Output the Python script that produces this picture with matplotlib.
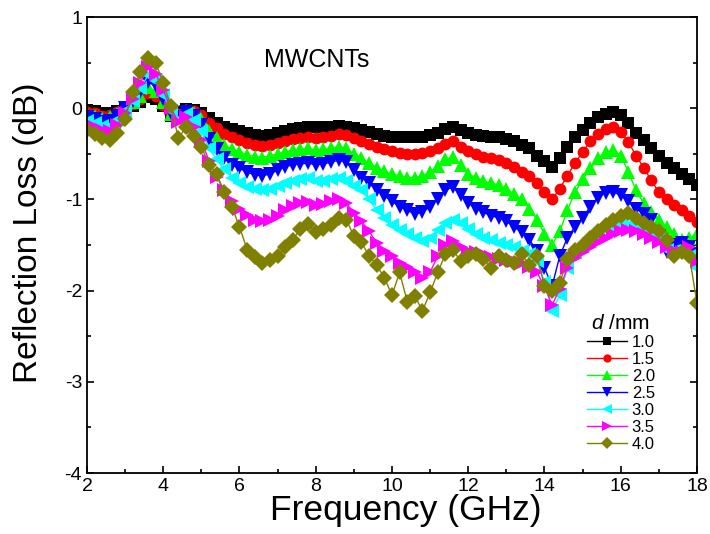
import matplotlib
matplotlib.use("Agg")
import matplotlib.pyplot as plt
import numpy as np
from matplotlib.ticker import MultipleLocator

plt.rcParams['font.family'] = ['Liberation Sans', 'DejaVu Sans']
plt.rcParams['mathtext.fontset'] = 'custom'
plt.rcParams['mathtext.it'] = 'Liberation Sans:italic'
plt.rcParams['mathtext.rm'] = 'Liberation Sans'
plt.rcParams['axes.unicode_minus'] = False

# frequency grid, 2 - 18 GHz every 0.2 GHz
freq = np.round(np.arange(2.0, 18.01, 0.2), 1)

rl_10 = [-0.02, -0.03, -0.05, -0.05, -0.03, 0.00, 0.03, 0.07, 0.12, 0.10,
         0.02, -0.08, -0.04, -0.01, -0.02, -0.05, -0.11, -0.16, -0.20, -0.23,
         -0.25, -0.27, -0.29, -0.30, -0.29, -0.27, -0.25, -0.23, -0.22, -0.21,
         -0.21, -0.21, -0.20, -0.19, -0.20, -0.22, -0.24, -0.26, -0.28, -0.30,
         -0.31, -0.32, -0.32, -0.32, -0.31, -0.29, -0.27, -0.23, -0.20, -0.24,
         -0.27, -0.29, -0.30, -0.31, -0.32, -0.34, -0.36, -0.40, -0.44, -0.52,
         -0.58, -0.64, -0.55, -0.43, -0.32, -0.24, -0.16, -0.10, -0.06, -0.04,
         -0.07, -0.16, -0.27, -0.35, -0.44, -0.52, -0.60, -0.66, -0.72, -0.78,
         -0.84]
rl_15 = [-0.04, -0.05, -0.08, -0.07, -0.04, 0.00, 0.05, 0.10, 0.17, 0.14,
         0.04, -0.07, -0.06, -0.02, -0.03, -0.07, -0.16, -0.22, -0.28, -0.32,
         -0.35, -0.38, -0.40, -0.41, -0.40, -0.38, -0.36, -0.34, -0.33, -0.32,
         -0.33, -0.32, -0.30, -0.28, -0.29, -0.33, -0.36, -0.39, -0.42, -0.45,
         -0.47, -0.49, -0.50, -0.50, -0.49, -0.47, -0.44, -0.39, -0.36, -0.42,
         -0.47, -0.50, -0.53, -0.55, -0.57, -0.60, -0.64, -0.70, -0.74, -0.82,
         -0.92, -1.00, -0.88, -0.74, -0.60, -0.48, -0.36, -0.28, -0.23, -0.21,
         -0.26, -0.37, -0.52, -0.65, -0.79, -0.92, -1.00, -1.06, -1.12, -1.18,
         -1.25]
rl_20 = [-0.07, -0.08, -0.11, -0.10, -0.06, 0.00, 0.07, 0.14, 0.23, 0.19,
         0.07, -0.06, -0.08, -0.03, -0.05, -0.12, -0.25, -0.33, -0.40, -0.45,
         -0.48, -0.51, -0.53, -0.54, -0.52, -0.50, -0.48, -0.46, -0.45, -0.44,
         -0.46, -0.45, -0.44, -0.42, -0.44, -0.50, -0.55, -0.60, -0.65, -0.69,
         -0.72, -0.74, -0.76, -0.76, -0.74, -0.70, -0.63, -0.56, -0.53, -0.62,
         -0.72, -0.76, -0.80, -0.82, -0.84, -0.88, -0.94, -1.00, -1.10, -1.22,
         -1.38, -1.50, -1.35, -1.12, -0.92, -0.78, -0.66, -0.55, -0.48, -0.46,
         -0.52, -0.70, -0.90, -1.04, -1.14, -1.22, -1.30, -1.38, -1.44, -1.42,
         -1.38]
rl_25 = [-0.10, -0.12, -0.15, -0.14, -0.09, 0.00, 0.08, 0.18, 0.29, 0.24,
         0.10, -0.05, -0.10, -0.04, -0.08, -0.18, -0.34, -0.45, -0.55, -0.62,
         -0.66, -0.70, -0.73, -0.74, -0.72, -0.68, -0.64, -0.62, -0.61, -0.60,
         -0.62, -0.61, -0.59, -0.57, -0.59, -0.68, -0.76, -0.82, -0.90, -0.96,
         -1.02, -1.08, -1.12, -1.16, -1.14, -1.08, -1.00, -0.90, -0.86, -0.95,
         -1.04, -1.10, -1.14, -1.18, -1.20, -1.24, -1.30, -1.36, -1.44, -1.56,
         -1.75, -1.95, -1.62, -1.42, -1.30, -1.20, -1.08, -0.98, -0.93, -0.92,
         -0.95, -1.02, -1.10, -1.16, -1.22, -1.40, -1.58, -1.50, -1.48, -1.52,
         -1.60]
rl_30 = [-0.14, -0.16, -0.19, -0.19, -0.13, -0.03, 0.08, 0.22, 0.36, 0.30,
         0.15, -0.03, -0.13, -0.06, -0.13, -0.25, -0.44, -0.56, -0.67, -0.76,
         -0.82, -0.86, -0.89, -0.90, -0.88, -0.85, -0.82, -0.80, -0.78, -0.77,
         -0.80, -0.80, -0.78, -0.76, -0.80, -0.85, -0.90, -1.00, -1.12, -1.20,
         -1.28, -1.34, -1.38, -1.42, -1.46, -1.42, -1.34, -1.26, -1.22, -1.26,
         -1.32, -1.38, -1.42, -1.45, -1.48, -1.50, -1.52, -1.56, -1.60, -1.68,
         -1.90, -2.22, -2.05, -1.75, -1.58, -1.50, -1.44, -1.38, -1.33, -1.30,
         -1.28, -1.28, -1.30, -1.34, -1.40, -1.45, -1.55, -1.56, -1.58, -1.62,
         -1.75]
rl_35 = [-0.18, -0.20, -0.24, -0.25, -0.18, -0.05, 0.10, 0.28, 0.45, 0.38,
         0.20, 0.00, -0.15, -0.10, -0.20, -0.35, -0.58, -0.75, -0.90, -1.02,
         -1.10, -1.17, -1.22, -1.24, -1.22, -1.18, -1.12, -1.07, -1.04, -1.03,
         -1.06, -1.05, -1.02, -0.99, -1.04, -1.15, -1.24, -1.35, -1.48, -1.56,
         -1.62, -1.70, -1.74, -1.80, -1.86, -1.80, -1.62, -1.50, -1.46, -1.52,
         -1.56, -1.58, -1.60, -1.63, -1.65, -1.66, -1.68, -1.70, -1.74, -1.80,
         -1.95, -2.16, -1.98, -1.75, -1.64, -1.58, -1.52, -1.47, -1.42, -1.38,
         -1.35, -1.34, -1.35, -1.38, -1.42, -1.47, -1.52, -1.56, -1.58, -1.52,
         -1.68]
rl_40 = [-0.24, -0.28, -0.33, -0.35, -0.27, -0.12, 0.18, 0.40, 0.55, 0.50,
         0.28, 0.02, -0.33, -0.20, -0.30, -0.42, -0.62, -0.72, -0.92, -1.08,
         -1.30, -1.55, -1.63, -1.70, -1.66, -1.62, -1.52, -1.44, -1.32, -1.27,
         -1.36, -1.32, -1.28, -1.20, -1.22, -1.40, -1.47, -1.62, -1.72, -1.86,
         -2.05, -1.80, -2.12, -2.06, -2.22, -2.02, -1.80, -1.60, -1.55, -1.68,
         -1.62, -1.60, -1.65, -1.75, -1.62, -1.66, -1.70, -1.60, -1.72, -1.62,
         -1.95, -2.00, -1.92, -1.65, -1.55, -1.50, -1.42, -1.35, -1.28, -1.23,
         -1.18, -1.15, -1.20, -1.26, -1.30, -1.35, -1.45, -1.62, -1.58, -1.62,
         -2.14]

thickness = ['1.0', '1.5', '2.0', '2.5', '3.0', '3.5', '4.0']
curves = [rl_10, rl_15, rl_20, rl_25, rl_30, rl_35, rl_40]
colors = ['black', '#ff0000', '#00ff00', '#0000ff', '#00ffff', '#ff00ff', '#808000']
markers = ['s', 'o', '^', 'v', '<', '>', 'D']

fig = plt.figure(figsize=(7.1, 5.34), dpi=100)
ax = fig.add_axes([0.1225, 0.1142, 0.8592, 0.8538])

for lab, rl, c, m in zip(thickness, curves, colors, markers):
    ms = 9.5 if m in '^v<>' else 8.5
    ax.plot(freq, rl, color=c, marker=m, markersize=ms, linewidth=1,
            markeredgewidth=0, label=lab)

ax.set_xlim(2, 18)
ax.set_ylim(-4, 1)
ax.xaxis.set_major_locator(MultipleLocator(2))
ax.xaxis.set_minor_locator(MultipleLocator(1))
ax.yaxis.set_major_locator(MultipleLocator(1))
ax.yaxis.set_minor_locator(MultipleLocator(0.5))
ax.tick_params(which='both', direction='in', labelsize=14, width=1.2,
               right=True, top=False)
ax.tick_params(which='major', length=5)
ax.tick_params(which='minor', length=3)
for sp in ax.spines.values():
    sp.set_linewidth(1.3)

ax.set_xlabel('Frequency (GHz)', fontsize=25.5, labelpad=0)
ax.xaxis.set_label_coords(0.523, -0.045, transform=ax.transAxes)
ax.xaxis.label.set_va('top')
ax.set_ylabel('Reflection Loss (dB)', fontsize=24)
ax.yaxis.set_label_coords(-0.07, 0.528, transform=ax.transAxes)
ax.text(0.377, 0.906, 'MWCNTs', transform=ax.transAxes, fontsize=18,
        ha='center', va='center')

leg = ax.legend(title='$d$ /mm', loc='lower left', bbox_to_anchor=(0.80, 0.02),
                frameon=False, fontsize=12, title_fontsize=15, markerscale=0.7,
                handlelength=2.4, labelspacing=0.12, handletextpad=0.3,
                borderpad=0.2)

fig.savefig('out.png', dpi=100)
